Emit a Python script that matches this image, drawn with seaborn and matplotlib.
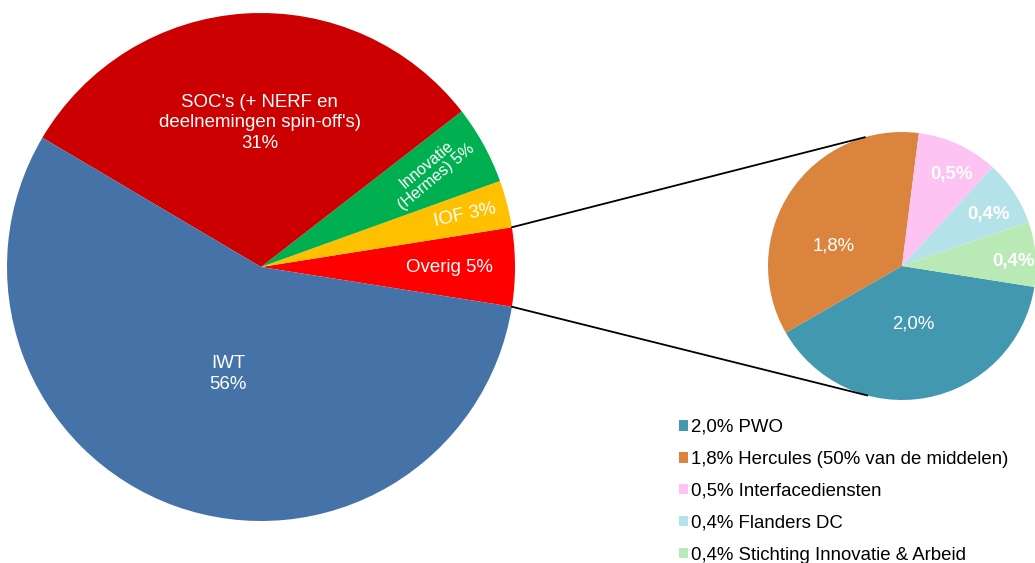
import numpy as np
import matplotlib
matplotlib.use("Agg")
import matplotlib.pyplot as plt
from matplotlib.patches import Patch
import seaborn as sns

# main pie (percent of total)
main_labels = ["Overig", "IOF", "Innovatie\n(Hermes)", "SOC's (+ NERF en\ndeelnemingen spin-off's)", "IWT"]
main_values = [5, 3, 5, 31, 56]
main_colors = ["#FF0000", "#FFC000", "#00B050", "#CC0000", "#4573A7"]

# breakdown of "Overig"
sub_names = ["PWO", "Hercules (50% van de middelen)", "Interfacediensten", "Flanders DC", "Stichting Innovatie & Arbeid"]
sub_values = [2.0, 1.8, 0.5, 0.4, 0.4]
sub_colors = ["#4198AF", "#DB843D", "#FDC3F2", "#B3E3E8", "#B9EAB6"]

sns.set_theme(style="white")
plt.rcParams['font.family'] = ['Liberation Sans', 'DejaVu Sans']

fig = plt.figure(figsize=(10.35, 5.63), dpi=100)
ax = fig.add_axes([0, 0, 1, 1])

main_c, main_r = (261, 296), 254
sub_c, sub_r = (902, 297), 134
fs = 13.4

wedges, _ = ax.pie(main_values, colors=main_colors, startangle=-9, counterclock=True,
                   center=main_c, radius=main_r, wedgeprops=dict(linewidth=0))

def pct(v):
    return f"{v:.1f}%".replace('.', ',')

# labels for main pie: (text, radial fraction, angle override, rotation, fontsize)
main_text = [
    ("Overig 5%", 0.74, None, 0, fs),
    ("IOF 3%", 0.83, None, 12, fs),
    ("Innovatie\n(Hermes) 5%", 0.77, 29.5, 40, 11.5),
    ("SOC's (+ NERF en\ndeelnemingen spin-off's)\n31%", 0.567, 90.5, 0, fs),
    ("IWT\n56%", 0.44, 253, 0, fs),
]
for w, (txt, frac, a, rot, size) in zip(wedges, main_text):
    ang = np.deg2rad(a if a is not None else (w.theta1 + w.theta2) / 2)
    x = main_c[0] + frac * main_r * np.cos(ang)
    y = main_c[1] + frac * main_r * np.sin(ang)
    ax.text(x, y, txt, ha='center', va='center', rotation=rot, color='white',
            fontsize=size, linespacing=1.3 if rot == 0 else 1.1)

sub_wedges, _ = ax.pie(sub_values, colors=sub_colors, startangle=351, counterclock=False,
                       center=sub_c, radius=sub_r, wedgeprops=dict(linewidth=0))

# label placement in the small pie: (angle, radial fraction, bold)
sub_pos = [(-79, 0.44, False), (163.5, 0.53, False), (61.5, 0.78, True), (31, 0.75, True), (2.5, 0.83, True)]
for v, (a, frac, b) in zip(sub_values, sub_pos):
    ang = np.deg2rad(a)
    x = sub_c[0] + frac * sub_r * np.cos(ang)
    y = sub_c[1] + frac * sub_r * np.sin(ang)
    ax.text(x, y, pct(v), ha='center', va='center', color='white', fontsize=fs,
            fontweight='bold' if b else 'normal')

# connector lines from "Overig" slice to the breakdown pie
ov = wedges[0]
for a_main, a_sub in [(ov.theta2, 106), (ov.theta1, 255)]:
    p0 = (main_c[0] + main_r * np.cos(np.deg2rad(a_main)), main_c[1] + main_r * np.sin(np.deg2rad(a_main)))
    p1 = (sub_c[0] + sub_r * np.cos(np.deg2rad(a_sub)), sub_c[1] + sub_r * np.sin(np.deg2rad(a_sub)))
    ax.plot([p0[0], p1[0]], [p0[1], p1[1]], color='black', linewidth=1.3)

# pie() resets the limits, so set them afterwards
ax.set_xlim(0, 1035)
ax.set_ylim(0, 563)
ax.set_aspect('equal')
ax.axis('off')

handles = [Patch(facecolor=c, edgecolor='none', label=f"{pct(v)} {n}")
           for c, v, n in zip(sub_colors, sub_values, sub_names)]
fig.legend(handles=handles, loc='upper left', bbox_to_anchor=(679 / 1035, 1 - 419 / 563),
           frameon=False, fontsize=fs, handlelength=0.5, handleheight=0.5,
           handletextpad=0.15, labelspacing=0.8, borderaxespad=0, borderpad=0,
           labelcolor='black')

fig.savefig("out.png", dpi=100)
